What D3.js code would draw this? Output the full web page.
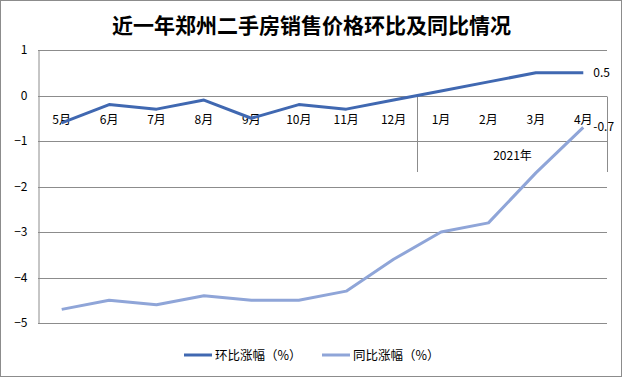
<!DOCTYPE html>
<html>
<head>
<meta charset="utf-8">
<script src="https://cdn.jsdelivr.net/npm/d3@7"></script>
<style>
  body { margin: 0; background: #fff; }
  svg text { font-family: "Noto Sans CJK SC", "Liberation Sans", sans-serif; }
</style>
</head>
<body>
<div id="chart"></div>
<script>
// chart data
const months = ["5月", "6月", "7月", "8月", "9月", "10月", "11月", "12月", "1月", "2月", "3月", "4月"];
const yearGroups = [{ label: "2021年", from: "1月", to: "4月" }];
const huanbi = [-0.6, -0.2, -0.3, -0.1, -0.5, -0.2, -0.3, -0.1, 0.1, 0.3, 0.5, 0.5];
const tongbi = [-4.7, -4.5, -4.6, -4.4, -4.5, -4.5, -4.3, -3.6, -3.0, -2.8, -1.7, -0.7];
const yTicks = [1, 0, -1, -2, -3, -4, -5];
const seriesNames = ["环比涨幅（%）", "同比涨幅（%）"];

const width = 623, height = 378;
const margin = { top: 50, right: 16, bottom: 55, left: 38 };
const colors = ["#4068b1", "#8fa5d8"];

const svg = d3.select("#chart").append("svg")
    .attr("width", width)
    .attr("height", height);

// outer border
svg.append("rect")
    .attr("x", 0.5).attr("y", 0.5)
    .attr("width", width - 2).attr("height", height - 2)
    .attr("fill", "#fff")
    .attr("stroke", "#8c8c8c");

svg.append("text")
    .attr("x", width / 2)
    .attr("y", 33)
    .attr("text-anchor", "middle")
    .style("font-size", "21px")
    .style("font-weight", "bold")
    .text("近一年郑州二手房销售价格环比及同比情况");

const x = d3.scaleBand()
    .domain(months)
    .range([margin.left, width - margin.right]);

const y = d3.scaleLinear()
    .domain([-5, 1])
    .range([323, 50]);

// gridlines
svg.append("g")
    .selectAll("line")
    .data(yTicks)
    .join("line")
    .attr("x1", margin.left)
    .attr("x2", width - margin.right)
    .attr("y1", d => Math.round(y(d)) + 0.5)
    .attr("y2", d => Math.round(y(d)) + 0.5)
    .attr("stroke", "#8c8c8c");

// y axis
const yAxis = d3.axisLeft(y).tickValues(yTicks).tickFormat(d3.format("d")).tickSize(0).tickPadding(11);
svg.append("g")
    .attr("transform", `translate(${margin.left + 0.5},0)`)
    .call(yAxis)
    .call(g => g.select(".domain").attr("stroke", "#8c8c8c"))
    .call(g => g.selectAll("text").style("font-size", "12px").attr("fill", "#000"));

// category axis at zero
const y0 = Math.round(y(0)) + 0.5;
svg.append("g")
    .selectAll("text")
    .data(months)
    .join("text")
    .attr("x", d => x(d) + x.bandwidth() / 2)
    .attr("y", y0 + 27)
    .attr("text-anchor", "middle")
    .style("font-size", "12px")
    .text(d => d);

// year group separators and labels
yearGroups.forEach(gr => {
    const x1 = Math.round(x(gr.from)) + 0.5;
    const x2 = Math.round(x(gr.to) + x.bandwidth()) + 0.5;
    svg.append("line")
        .attr("x1", x1).attr("x2", x1)
        .attr("y1", y0).attr("y2", 172)
        .attr("stroke", "#8c8c8c");
    svg.append("line")
        .attr("x1", x2).attr("x2", x2)
        .attr("y1", y0).attr("y2", 172)
        .attr("stroke", "#8c8c8c");
    svg.append("text")
        .attr("x", (x1 + x2) / 2)
        .attr("y", 160)
        .attr("text-anchor", "middle")
        .style("font-size", "12px")
        .text(gr.label);
});

// lines
const line = d3.line()
    .x((d, i) => x(months[i]) + x.bandwidth() / 2)
    .y(d => y(d));

[huanbi, tongbi].forEach((s, k) => {
    svg.append("path")
        .datum(s)
        .attr("fill", "none")
        .attr("stroke", colors[k])
        .attr("stroke-width", 3)
        .attr("stroke-linejoin", "round")
        .attr("d", line);

    const last = s.length - 1;
    svg.append("text")
        .attr("x", x(months[last]) + x.bandwidth() / 2 + 10)
        .attr("y", y(s[last]) + 4)
        .style("font-size", "12px")
        .text(s[last]);
});

// legend
const legendX = [184, 322];
seriesNames.forEach((name, k) => {
    svg.append("line")
        .attr("x1", legendX[k]).attr("x2", legendX[k] + 28)
        .attr("y1", 355).attr("y2", 355)
        .attr("stroke", colors[k])
        .attr("stroke-width", 3);
    svg.append("text")
        .attr("x", legendX[k] + 31)
        .attr("y", 359.5)
        .style("font-size", "12.5px")
        .text(name);
});
</script>
</body>
</html>
